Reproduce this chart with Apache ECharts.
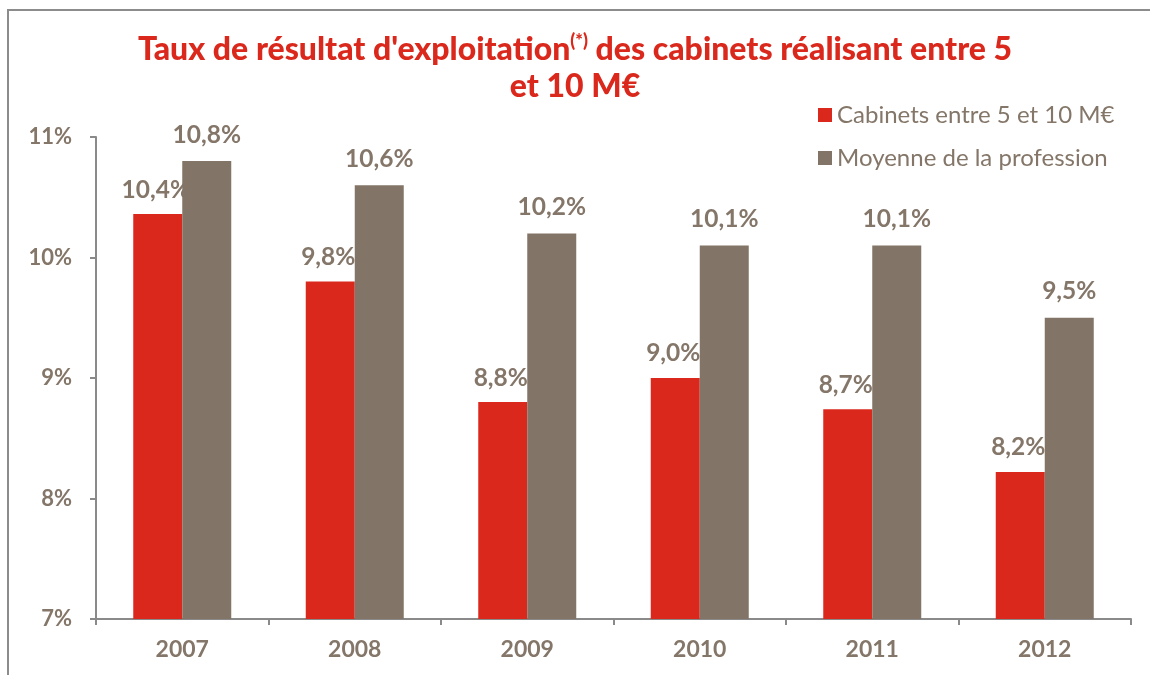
<!DOCTYPE html>
<html>
<head>
<meta charset="utf-8">
<script src="https://cdn.jsdelivr.net/npm/echarts@6/dist/echarts.min.js"></script>
<style>
  html, body { margin: 0; padding: 0; background: #fff; }
  #chart { width: 1150px; height: 675px; }
</style>
</head>
<body>
<div id="chart"></div>
<script>
// données
var years = ['2007', '2008', '2009', '2010', '2011', '2012'];
var cabinets = [10.36, 9.8, 8.8, 9.0, 8.74, 8.22];
var moyenne = [10.8, 10.6, 10.2, 10.1, 10.1, 9.5];
var seriesNames = ['Cabinets entre 5 et 10 M€', 'Moyenne de la profession'];

var FONT = 'Lato';
var TXT = '#847668';
var RED = '#da291c';
var BROWN = '#827466';

var myChart = echarts.init(document.getElementById('chart'));

function pct(p) {
  return p.value.toFixed(1).replace('.', ',') + '%';
}

var option = {
  backgroundColor: '#fff',
  title: {
    text: "Taux de résultat d'exploitation{sup|(*)} des cabinets réalisant entre 5\net 10 M€",
    left: 'center',
    top: 26,
    textStyle: {
      fontFamily: FONT,
      fontWeight: 900,
      fontSize: 32,
      color: RED,
      lineHeight: 37,
      rich: {
        sup: {
          fontFamily: FONT,
          fontWeight: 900,
          fontSize: 18,
          color: RED,
          padding: [0, 0, 16, 0]
        }
      }
    }
  },
  legend: {
    orient: 'vertical',
    left: 813,
    top: 98,
    itemWidth: 14,
    itemHeight: 14,
    itemGap: 19,
    icon: 'rect',
    textStyle: { fontFamily: FONT, fontSize: 24, color: TXT },
    data: seriesNames
  },
  graphic: [
    {
      type: 'polyline',
      shape: { points: [[8, 675], [8, 10], [1150, 10]] },
      style: { stroke: '#8c8c8c', lineWidth: 2, fill: null }
    }
  ],
  grid: { left: 96, right: 19, top: 137, bottom: 56 },
  xAxis: {
    type: 'category',
    data: years,
    axisLine: { lineStyle: { color: '#8a8a8a', width: 2 } },
    axisTick: { show: true, length: 6, lineStyle: { color: '#8a8a8a', width: 2 } },
    axisLabel: { fontFamily: FONT, fontWeight: 'bold', fontSize: 23, color: TXT, margin: 19 }
  },
  yAxis: {
    type: 'value',
    min: 7,
    max: 11,
    interval: 1,
    splitLine: { show: false },
    axisLine: { show: true, lineStyle: { color: '#8a8a8a', width: 2 } },
    axisTick: { show: true, length: 6, lineStyle: { color: '#8a8a8a', width: 2 } },
    axisLabel: { formatter: '{value}%', fontFamily: FONT, fontWeight: 'bold', fontSize: 22, color: TXT, margin: 24 }
  },
  series: [
    {
      name: seriesNames[0],
      type: 'bar',
      data: cabinets,
      barWidth: 49,
      barGap: '0%',
      z: 2,
      itemStyle: { color: RED },
      label: {
        show: true, position: 'top', distance: 12, formatter: pct,
        fontFamily: FONT, fontWeight: 'bold', fontSize: 24.5, color: TXT, offset: [-2, 0]
      }
    },
    {
      name: seriesNames[1],
      type: 'bar',
      data: moyenne,
      barWidth: 49,
      barGap: '0%',
      z: 3,
      itemStyle: { color: BROWN },
      label: {
        show: true, position: 'top', distance: 14, formatter: pct,
        fontFamily: FONT, fontWeight: 'bold', fontSize: 24.5, color: TXT
      }
    }
  ]
};

myChart.setOption(option);
</script>
</body>
</html>
